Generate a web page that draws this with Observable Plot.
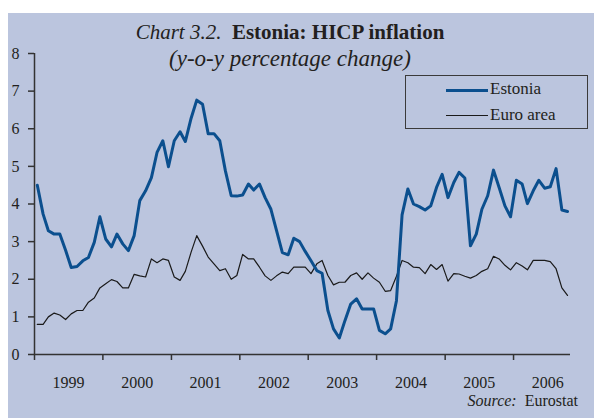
<!DOCTYPE html>
<html><head><meta charset="utf-8">
<script src="https://cdn.jsdelivr.net/npm/d3@7"></script>
<script src="https://cdn.jsdelivr.net/npm/@observablehq/plot@0.6"></script>
<style>
body{margin:0;background:#fff;}
#wrap{position:relative;width:594px;height:418px;overflow:hidden;font-family:"Liberation Serif","Times New Roman",serif;color:#231f20;}
#bg{position:absolute;left:8px;top:13px;right:0;bottom:0;background:#bbc5de;}
#chart{position:absolute;left:0;top:0;}
.t{position:absolute;left:0;width:580px;text-align:center;white-space:nowrap;}
#title{top:22px;font-size:21px;line-height:21px;}
#sub{top:47px;font-size:23px;line-height:23px;font-style:italic;}
#legend{position:absolute;left:405px;top:75px;width:181px;height:52px;border:1px solid #3a3a3a;}
.li{position:absolute;left:40px;height:20px;}
.sw{position:absolute;left:0;width:42px;}
.lt{position:absolute;left:44px;top:0;font-size:17px;line-height:20px;white-space:nowrap;}
#source{position:absolute;right:16px;top:392px;font-size:16px;line-height:18px;white-space:nowrap;}
</style>
</head><body>
<div id="wrap">
<div id="bg"></div>
<div id="chart"></div>
<div class="t" id="title"><i>Chart 3.2.</i>&nbsp; <b>Estonia: HICP inflation</b></div>
<div class="t" id="sub">(y-o-y percentage change)</div>
<div id="legend">
  <div class="li" style="top:3px"><div class="sw" style="top:10px;height:3px;background:#0b4f8e"></div><div class="lt">Estonia</div></div>
  <div class="li" style="top:29px"><div class="sw" style="top:10px;height:1px;background:#1a1a1a"></div><div class="lt">Euro area</div></div>
</div>
<div id="source"><i>Source:</i>&nbsp; Eurostat</div>
</div>
<script>
const startYear = 1999;
const years = ["1999","2000","2001","2002","2003","2004","2005","2006"];
const yTicks = [0,1,2,3,4,5,6,7,8];
const estonia = [
  4.50, 3.73, 3.29, 3.20, 3.20, 2.77, 2.31, 2.34, 2.49, 2.58, 2.98, 3.66,
  3.07, 2.86, 3.20, 2.94, 2.76, 3.16, 4.09, 4.35, 4.70, 5.37, 5.68, 4.99,
  5.68, 5.92, 5.66, 6.28, 6.76, 6.65, 5.87, 5.87, 5.68, 4.88, 4.22, 4.21,
  4.24, 4.53, 4.37, 4.53, 4.17, 3.86, 3.29, 2.71, 2.65, 3.09, 3.00, 2.74,
  2.49, 2.23, 2.16, 1.17, 0.68, 0.44, 0.90, 1.34, 1.48, 1.21, 1.21, 1.21,
  0.64, 0.55, 0.68, 1.43, 3.71, 4.40, 4.00, 3.93, 3.84, 3.95, 4.44, 4.79,
  4.17, 4.57, 4.84, 4.69, 2.89, 3.20, 3.86, 4.22, 4.90, 4.44, 3.95, 3.66,
  4.63, 4.53, 4.01, 4.35, 4.63, 4.42, 4.46, 4.94, 3.84, 3.80
];
const euroArea = [
  0.80, 0.80, 1.00, 1.10, 1.05, 0.93, 1.08, 1.17, 1.17, 1.39, 1.50, 1.77,
  1.88, 1.99, 1.94, 1.77, 1.77, 2.13, 2.09, 2.06, 2.54, 2.44, 2.54, 2.50,
  2.06, 1.97, 2.21, 2.72, 3.16, 2.88, 2.59, 2.41, 2.23, 2.28, 2.00, 2.10,
  2.66, 2.54, 2.54, 2.32, 2.09, 1.97, 2.09, 2.19, 2.15, 2.32, 2.32, 2.32,
  2.15, 2.41, 2.50, 2.10, 1.85, 1.92, 1.92, 2.10, 2.17, 2.00, 2.17, 2.03,
  1.92, 1.68, 1.70, 2.08, 2.50, 2.44, 2.32, 2.31, 2.15, 2.39, 2.26, 2.39,
  1.95, 2.15, 2.14, 2.08, 2.03, 2.10, 2.21, 2.28, 2.61, 2.54, 2.37, 2.25,
  2.44, 2.35, 2.25, 2.50, 2.50, 2.50, 2.47, 2.28, 1.77, 1.57
];

const monthDate = i => new Date(Date.UTC(startYear, i, 16));
const estData = estonia.map((v, i) => ({date: monthDate(i), value: v}));
const euroData = euroArea.map((v, i) => ({date: monthDate(i), value: v}));
const yearStarts = years.map(y => new Date(Date.UTC(+y, 0, 1)));
const yearMids = years.map(y => ({date: new Date(Date.UTC(+y, 6, 2)), label: y}));
const x0 = new Date(Date.UTC(1999, 0, 1));
const x1 = new Date(Date.UTC(2006, 10, 1));
const axisColor = "#333";

const chart = Plot.plot({
  width: 594, height: 418,
  marginLeft: 34, marginRight: 24, marginTop: 53, marginBottom: 64,
  style: {background: "transparent", fontFamily: "Liberation Serif, Times New Roman, serif", fontSize: "16px", color: "#231f20"},
  x: {type: "utc", domain: [x0, x1]},
  y: {domain: [0, 8]},
  marks: [
    Plot.axisY({ticks: yTicks, tickSize: 6, tickPadding: 9, tickFormat: d => String(d), fontSize: 16, stroke: axisColor, strokeWidth: 1.5, label: null}),
    Plot.axisX({ticks: yearStarts, tickSize: 6, tickFormat: () => "", stroke: axisColor, strokeWidth: 1.5, label: null}),
    Plot.text(yearMids, {x: "date", y: () => 0, dy: 28, text: "label", fontSize: 16, fill: "#231f20"}),
    Plot.line(euroData, {x: "date", y: "value", stroke: "#1a1a1a", strokeWidth: 1.2}),
    Plot.line(estData, {x: "date", y: "value", stroke: "#0b4f8e", strokeWidth: 3}),
    Plot.ruleY([0], {stroke: axisColor, strokeWidth: 1.5}),
    Plot.ruleX([x0], {stroke: axisColor, strokeWidth: 1.5})
  ]
});
document.getElementById("chart").appendChild(chart);
</script>
</body></html>
